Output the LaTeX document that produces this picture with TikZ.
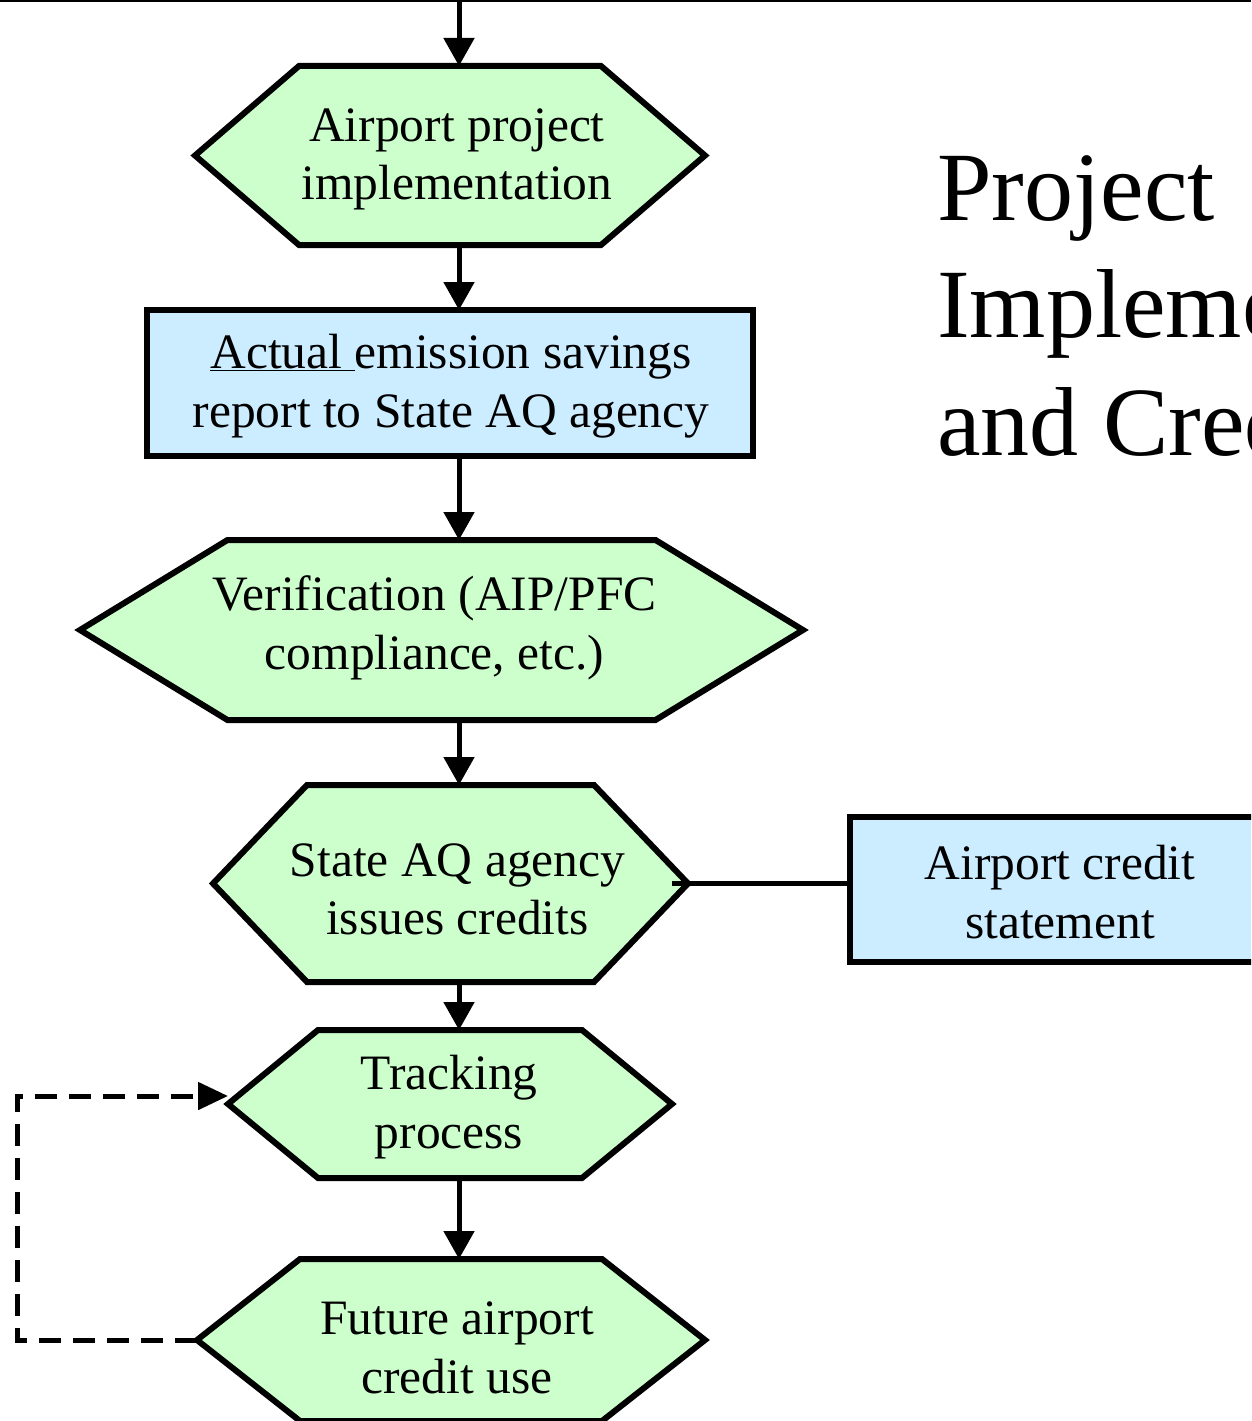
\documentclass[tikz,border=0pt]{standalone}
\usepackage{fontspec}
\setmainfont{Liberation Serif}
\usetikzlibrary{arrows.meta}
\definecolor{hexgreen}{RGB}{204,255,204}
\definecolor{boxblue}{RGB}{204,236,255}
% #1 name, #2 cx, #3 cy, #4 half width, #5 inset, #6 half height, #7 text x offset, #8 text y offset, #9 text
\newcommand\hexshape[9]{%
  \filldraw[hexline] (#2-#4,#3) -- (#2-#4+#5,#3-#6) -- (#2+#4-#5,#3-#6) -- (#2+#4,#3)
    -- (#2+#4-#5,#3+#6) -- (#2-#4+#5,#3+#6) -- cycle;
  \node[hexbox, minimum width={2*#4pt}, minimum height={2*#6pt}] (#1) at (#2,#3) {};
  \node[hextext] (#1t) at (#2+#7,#3+#8) {#9};
}
\begin{document}
\begin{tikzpicture}[x=1pt,y=-1pt,
  basefont/.style={font=\fontsize{49.5}{58.5}\selectfont},
  hexbox/.style={inner sep=0pt, outer sep=0pt},
  hextext/.style={basefont, inner sep=0pt, align=center},
  hexline/.style={draw=black, fill=hexgreen, line width=6pt, line join=miter},
  rectbox/.style={draw=black, fill=boxblue, line width=6pt, inner sep=0pt, outer sep=0pt},
  flow/.style={line width=5pt, -{Triangle[length=28pt,width=30pt]}},
  plainline/.style={line width=5pt},
  dashflow/.style={line width=5pt, dash pattern=on 22pt off 12pt,
    -{Triangle[length=30pt,width=27pt]}},
  title/.style={anchor=base west, inner sep=0pt, font=\fontsize{98}{117}\selectfont}]
\useasboundingbox (0,0) rectangle (1251,1421);
\clip (0,0) rectangle (1251,1421);
\fill[white] (0,0) rectangle (1251,1421);
\draw[line width=2pt] (0,1) -- (1251,1);

\coordinate (ax) at (459,0);
\coordinate (topin) at (459,0);

\hexshape{h1}{450}{155.5}{255}{104}{89.5}{7}{4}{Airport project\\implementation}
\node[rectbox, minimum width=606pt, minimum height=146pt] (r1) at (450,383) {};
\node[hextext] (r1t) at (451,386)
  {\underline{Actual\ }emission savings\\report to State AQ agency};
\hexshape{h3}{441.5}{630}{361.5}{147.5}{90}{-7}{-2}{Verification (AIP/PFC\\compliance, etc.)}
\hexshape{h4}{450.5}{883.5}{237.5}{94}{98.5}{7}{6}{State AQ agency\\issues credits}
\node[rectbox, minimum width=424pt, minimum height=145pt] (r2) at (1062,889.5) {};
\node[hextext] (r2t) at (1060,892) {Airport credit\\statement};
\hexshape{h5}{450}{1104}{222}{90}{74}{-1}{3}{Tracking\\process}
\hexshape{h6}{451}{1340}{254}{103}{81}{6}{8}{Future airport\\credit use}

\draw[flow] (topin) -- (h1.north -| ax);
\draw[flow] (h1.south -| ax) -- (r1.north -| ax);
\draw[flow] (r1.south -| ax) -- (h3.north -| ax);
\draw[flow] (h3.south -| ax) -- (h4.north -| ax);
\draw[flow] (h4.south -| ax) -- (h5.north -| ax);
\draw[flow] (h5.south -| ax) -- (h6.north -| ax);
\draw[plainline] ([xshift=-16pt]h4.east) -- (h4.east -| r2.west);
\draw[dashflow] (h6.west) -- ++(-180,0) |- ([yshift=8pt]h5.west);

\node[title] (t1) at (937,220) {Project};
\node[title] (t2) at (937,337) {Implementation};
\node[title] (t3) at (937,455) {and Credit};
\end{tikzpicture}
\end{document}
